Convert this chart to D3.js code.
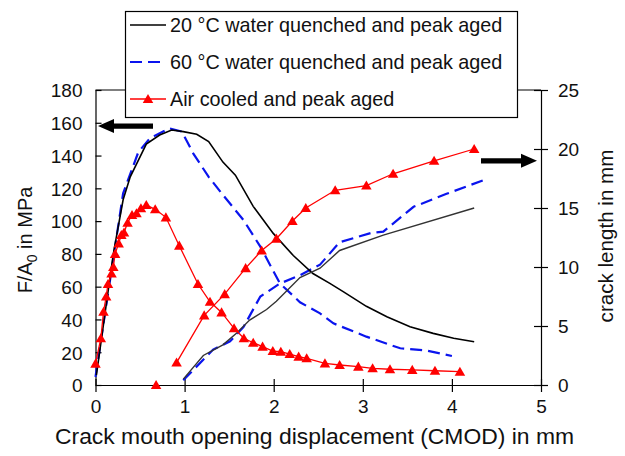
<!DOCTYPE html>
<html><head><meta charset="utf-8">
<script src="https://cdn.jsdelivr.net/npm/d3@7"></script>
<style>body{margin:0;background:#fff}svg{display:block;font-family:"Liberation Sans",Arial,Helvetica,sans-serif}</style>
</head><body><div id="chart"></div>
<script>
// ---- data ----
const seriesNames = ["20 °C water quenched and peak aged","60 °C water quenched and peak aged","Air cooled and peak aged"];
// force (F/A0, MPa) vs CMOD (mm)
const wq20_cmod  = [0.01,0.2,0.31,0.39,0.57,0.72,0.855,0.985,1.136,1.27,1.43,1.57,1.77,1.995,2.22,2.44,2.63,2.78,3.04,3.27,3.53,3.79,4.02,4.25];
const wq20_force = [6,80,113,127,147,152.5,155.6,154.6,153,148.5,136,128,109,92.5,79,68,62,57,48,41.7,35.6,31.5,28.5,26.4];
const wq60_cmod  = [0.0,0.31,0.48,0.61,0.83,0.97,1.1,1.27,1.43,1.66,1.85,2.07,2.295,2.52,2.67,3.04,3.42,3.72,4.0];
const wq60_force = [5,117,142,150.5,156.6,154.6,141,127,116,100.7,84.4,62,50.5,43.7,37.6,29.5,22.4,21,17.7];
const air_cmod   = [0.0,0.06,0.09,0.12,0.14,0.18,0.2,0.22,0.26,0.29,0.32,0.36,0.41,0.46,0.51,0.57,0.67,0.79,0.94,1.15,1.285,1.415,1.555,1.665,1.77,1.875,1.99,2.08,2.18,2.28,2.37,2.575,2.74,2.95,3.11,3.305,3.555,3.81,4.09];
const air_force  = [13,28.5,44.7,54,61.6,68,72,80,86.4,91.5,93,99,103.7,104.8,107.8,109.8,107.2,102.3,85,61.6,50.8,44.3,34.6,28.5,25.8,23.4,20.7,20.3,18.9,17.3,16.3,13.2,12.2,11.2,10.2,9.6,9.2,8.7,8.1];
// crack length (mm) vs CMOD (mm)
const wq20_ccmod = [0.985,1.21,1.43,1.585,1.73,1.92,2.03,2.295,2.52,2.74,3.23,4.25];
const wq20_crack = [0.5,2.5,3.4,4.4,5.5,6.4,7.1,9.1,9.9,11.4,12.7,15.0];
const wq60_ccmod = [0.985,1.32,1.51,1.66,1.85,2.07,2.295,2.52,2.74,3.1,3.23,3.57,3.94,4.37];
const wq60_crack = [0.4,3.0,3.7,4.9,7.5,8.6,9.3,10.2,12.1,12.9,13.0,15.1,16.2,17.4];
const air_ccmod  = [0.68,0.91,1.22,1.45,1.685,1.865,2.03,2.21,2.36,2.69,3.04,3.34,3.8,4.25];
const air_crack  = [0,1.9,5.9,7.7,9.9,11.4,12.4,13.9,15.0,16.5,16.9,17.9,19.0,20.0];
const xTicks = [0,1,2,3,4,5];
const yLeftTicks = [0,20,40,60,80,100,120,140,160,180];
const yRightTicks = [0,5,10,15,20,25];
const arrowLeftValue = 158;   // MPa level of left-pointing arrow
const arrowRightValue = 19;   // mm level of right-pointing arrow

// ---- drawing ----
const W=625,H=456;
const svg=d3.select("#chart").append("svg").attr("width",W).attr("height",H);
const x=d3.scaleLinear().domain([0,5]).range([95.5,541]);
const yL=d3.scaleLinear().domain([0,180]).range([385,90]);
const yR=d3.scaleLinear().domain([0,25]).range([385,90]);
const txt="#111";

// frame top line
svg.append("line").attr("x1",x(0)).attr("x2",x(5)).attr("y1",yL(180)).attr("y2",yL(180)).attr("stroke","#000").attr("stroke-width",1.2);

function styleAxis(g){
  g.select(".domain").attr("stroke","#000").attr("stroke-width",1.2);
  g.selectAll(".tick line").attr("stroke","#000").attr("stroke-width",1.2);
  g.selectAll(".tick text").attr("fill",txt).style("font-size","19px");
}
// x axis
const gx=svg.append("g").attr("transform",`translate(0,${yL(0)})`)
  .call(d3.axisBottom(x).tickValues(xTicks).tickFormat(d3.format("d")).tickSizeInner(7).tickSizeOuter(0).tickPadding(8));
styleAxis(gx);
gx.selectAll(".tick line").attr("y1",-6);
// left axis
const gl=svg.append("g").attr("transform",`translate(${x(0)},0)`)
  .call(d3.axisLeft(yL).tickValues(yLeftTicks).tickFormat(d3.format("d")).tickSizeInner(7).tickSizeOuter(0).tickPadding(6));
styleAxis(gl);
gl.selectAll(".tick line").attr("x2",6);
gl.selectAll(".tick text").attr("dy","0.36em");
// right axis
const gr=svg.append("g").attr("transform",`translate(${x(5)},0)`)
  .call(d3.axisRight(yR).tickValues(yRightTicks).tickFormat(d3.format("d")).tickSizeInner(7).tickSizeOuter(0).tickPadding(10));
styleAxis(gr);
gr.selectAll(".tick line").attr("x2",7).attr("x1",-7);
gr.selectAll(".tick text").attr("dy","0.36em");

// axis titles
svg.append("text").attr("x",314.5).attr("y",444).attr("text-anchor","middle")
  .attr("fill",txt).style("font-size","22.9px").text("Crack mouth opening displacement (CMOD) in mm");
const yt=svg.append("text").attr("transform",`translate(32,240) rotate(-90)`).attr("text-anchor","middle")
  .attr("fill",txt).style("font-size","20px");
yt.append("tspan").text("F/A");
yt.append("tspan").attr("dy",5).style("font-size","14px").text("0");
yt.append("tspan").attr("dy",-5).text(" in MPa");
svg.append("text").attr("transform",`translate(613,236) rotate(-90)`).attr("text-anchor","middle")
  .attr("fill",txt).style("font-size","20.6px").text("crack length in mm");

// lines
function pts(xs,ys){return xs.map((v,i)=>[v,ys[i]]);}
const lineL=d3.line().x(d=>x(d[0])).y(d=>yL(d[1]));
const lineR=d3.line().defined(d=>d[1]>0).x(d=>x(d[0])).y(d=>yR(d[1]));

svg.append("path").attr("d",lineL(pts(wq60_cmod,wq60_force))).attr("fill","none").attr("stroke","#0a14ee").attr("stroke-width",2.2).attr("stroke-dasharray","12,6");
svg.append("path").attr("d",lineR(pts(wq60_ccmod,wq60_crack))).attr("fill","none").attr("stroke","#0a14ee").attr("stroke-width",2.2).attr("stroke-dasharray","12,6");
svg.append("path").attr("d",lineL(pts(wq20_cmod,wq20_force))).attr("fill","none").attr("stroke","#000").attr("stroke-width",1.6);
svg.append("path").attr("d",lineR(pts(wq20_ccmod,wq20_crack))).attr("fill","none").attr("stroke","#333").attr("stroke-width",1.4);

const red="#ff0000";
svg.append("path").attr("d",lineL(pts(air_cmod,air_force))).attr("fill","none").attr("stroke",red).attr("stroke-width",1.3);
svg.append("path").attr("d",lineR(pts(air_ccmod,air_crack))).attr("fill","none").attr("stroke",red).attr("stroke-width",1.3);
const tri=d3.symbol().type(d3.symbolTriangle).size(48);
svg.append("g").selectAll("path").data(pts(air_cmod,air_force)).join("path")
  .attr("d",tri).attr("transform",d=>`translate(${x(d[0])},${yL(d[1])+1})`).attr("fill",red);
svg.append("g").selectAll("path").data(pts(air_ccmod,air_crack)).join("path")
  .attr("d",tri).attr("transform",d=>`translate(${x(d[0])},${yR(d[1])+1})`).attr("fill",red);

// arrows
function arrow(x1,x2,yv){
  const dir=Math.sign(x2-x1), hl=16, hw=7, sw=2.6;
  const xb=x2-dir*hl;
  svg.append("path").attr("fill","#000").attr("d",
    `M${x1},${yv-sw}L${xb},${yv-sw}L${xb},${yv-hw}L${x2},${yv}L${xb},${yv+hw}L${xb},${yv+sw}L${x1},${yv+sw}Z`);
}
arrow(153,98,yL(arrowLeftValue));
arrow(481,537,yR(arrowRightValue));

// legend
const lg=svg.append("g");
lg.append("rect").attr("x",125.5).attr("y",11.5).attr("width",392).attr("height",106).attr("fill","#fff").attr("stroke","#000").attr("stroke-width",1.2);
const rowsY=[25,62,99];
const styles=[{c:"#000",w:1.6,d:null,m:false},{c:"#0a14ee",w:2.2,d:"12,6",m:false},{c:red,w:1.6,d:null,m:true}];
seriesNames.forEach((n,i)=>{
  const s=styles[i];
  lg.append("line").attr("x1",130).attr("x2",166).attr("y1",rowsY[i]).attr("y2",rowsY[i])
    .attr("stroke",s.c).attr("stroke-width",s.w).attr("stroke-dasharray",s.d);
  if(s.m) lg.append("path").attr("d",tri).attr("transform",`translate(148,${rowsY[i]+1})`).attr("fill",red);
  lg.append("text").attr("x",170).attr("y",rowsY[i]).attr("dy","0.35em").attr("fill",txt).style("font-size","19.8px").text(n);
});
</script></body></html>
